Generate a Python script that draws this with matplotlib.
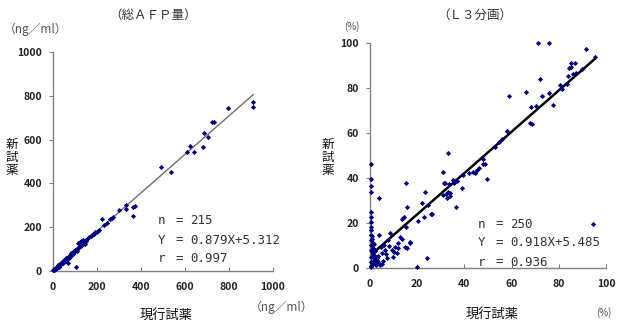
import matplotlib
matplotlib.use("Agg")
import matplotlib.pyplot as plt

plt.rcParams['font.family'] = ['Noto Sans CJK JP', 'DejaVu Sans']

# --- total AFP (ng/ml) ---
afp_x = [911, 911, 794, 724, 730, 688, 703, 684, 623, 611, 642, 491, 535, 373, 365,
         332, 332, 301, 362, 224, 274, 268, 259, 244, 231, 209, 199, 192, 182, 176,
         171, 165, 156, 150, 143, 137, 130, 125, 121, 118, 114, 110, 105, 102, 98,
         95, 92, 90, 87, 85, 82, 80, 78, 75, 73, 70, 68, 66, 64, 62,
         60, 58, 56, 54, 52, 50, 48, 46, 44, 42, 40, 38, 36, 34, 32,
         30, 28, 26, 24, 22, 20, 18, 16, 14, 12, 10, 8, 6, 5, 4,
         3, 2, 140, 128, 112, 96, 88, 76, 60, 45, 35, 25, 15, 120, 135, 145, 115,
         108, 92, 84, 72, 57, 47, 39, 29, 19, 100, 126, 152, 186]
afp_y = [773, 750, 743, 679, 682, 629, 613, 568, 571, 542, 542, 476, 453, 298, 292,
         301, 283, 279, 253, 236, 245, 244, 236, 218, 210, 186, 180, 178, 170, 164,
         160, 155, 148, 141, 133, 122, 134, 137, 112, 108, 103, 99, 17, 95, 92,
         86, 84, 80, 82, 76, 74, 71, 72, 68, 65, 38, 63, 60, 57, 60,
         54, 52, 50, 53, 47, 48, 44, 42, 45, 38, 40, 36, 34, 32, 30,
         32, 27, 25, 26, 23, 20, 19, 17, 15, 12, 11, 9, 7, 5, 6,
         3, 4, 128, 120, 104, 90, 78, 65, 58, 39, 30, 20, 12, 130, 140, 125, 126,
         92, 78, 80, 60, 46, 38, 35, 22, 14, 96, 115, 136, 170]
afp_fit = [0.879, 5.312]
afp_fit_x = [0, 910]
afp_stats = ["215", "0.879X+5.312", "0.997"]

# --- L3 fraction (%) ---
l3_x = [71, 76, 91.5, 95.3, 85, 87, 85, 84.5, 89.8, 86.2, 87.3, 84, 72, 80.5, 83.5,
        76, 81.5, 66, 72.9, 58.9, 77.7, 70.2, 68.2, 67.8, 68.5, 58.2, 56, 54.8, 53, 32.9,
        0.3, 47.7, 47.7, 49.4, 45.2, 44.5, 46, 42.1, 39.5, 36.7, 35.6, 33.5, 31.5, 38.9, 31.1,
        36.4, 33, 32, 31, 34, 32.5, 23.3, 15.3, 3.9, 15.5, 24.7, 21.9, 25.8, 23, 20.5,
        14.1, 13.4, 15.3, 3.9, 8.5, 16.9, 15.5, 24, 20, 94.6, 31.8, 35.3, 43.8, 48.7, 26.1,
        33.9, 14.5, 12.7, 13.4, 16.9, 12, 10.6, 9.2, 6.4, 4.9, 3.5, 2.8, 2.1, 4.2, 7.1,
        9.9, 11.3, 14.8, 7.5, 6.1, 4.7, 2.1, 1.4, 1.8, 3.3, 0.5, 0.4, 0.5, 0.4, 0.3,
        0.4, 0.5, 0.3, 0.4, 0.5, 0.3, 0.4, 0.6, 0.5, 0.3, 0.4, 1.0, 1.2, 0.8, 1.5,
        2.5, 1.1, 0.9, 1.6, 2.2, 3.0, 5.5, 6.8, 8.0, 10.2, 11.8, 5.2, 2.6, 1.3, 0.7]
l3_y = [100, 100, 97.3, 93.9, 91, 91, 89.5, 88.7, 88.3, 86.4, 86.5, 85.3, 83.8, 81.5, 81.6,
        77.6, 79.4, 78.4, 76.4, 76.6, 72.4, 72, 71.7, 64.6, 63.9, 61, 57.2, 56.1, 53.9, 51.3,
        46.2, 48.4, 46.1, 39.6, 43.6, 42.1, 44.5, 42.1, 41.3, 38.8, 38, 37.3, 37.9, 35.4, 42.5,
        27.3, 34, 33, 32.5, 32, 31, 33.6, 37.6, 31, 27.3, 28, 29, 23.8, 22.8, 21,
        22.1, 21.6, 18.4, 14.7, 15.7, 11.7, 8.8, 4.6, 0.3, 19.4, 38, 39, 42.8, 46.2, 23.8,
        33.5, 22.8, 13.9, 12.7, 11.3, 11.3, 9.5, 8, 8, 6.5, 5.3, 3.6, 2.1, 1.3, 4.3,
        5, 6.5, 9.5, 12.4, 10.2, 9.5, 8, 11, 5, 2.8, 0.8, 39.4, 36.4, 33.9, 25,
        22.8, 20.6, 16.9, 14.7, 12.4, 10.2, 8, 5, 2.8, 0.6, 18.4, 13, 9, 7, 6,
        4, 3, 1.5, 10.5, 7.5, 4.5, 3.2, 6.2, 9.8, 7.2, 8.8, 1.8, 1.2, 2.4, 14.2]
l3_fit = [0.918, 5.485]
l3_fit_x = [0, 95]
l3_stats = ["250", "0.918X+5.485", "0.936"]

ticks = [0, 200, 400, 600, 800, 1000]
pct_ticks = [0, 20, 40, 60, 80, 100]

navy = '#000080'
axis_gray = '#808080'
txt = '#333333'

fig = plt.figure(figsize=(6.22, 3.30), dpi=100)
W, H = 622, 330


def fx(px):
    return px / W


def fy(py):
    return 1 - py / H


def style_axes(ax, xt, yt, lim):
    ax.set_xlim(0, lim)
    ax.set_ylim(0, lim)
    ax.set_xticks(xt)
    ax.set_yticks(yt)
    for s in ['top', 'right']:
        ax.spines[s].set_visible(False)
    for s in ['left', 'bottom']:
        ax.spines[s].set_color(axis_gray)
        ax.spines[s].set_linewidth(1)
    ax.tick_params(axis='x', direction='in', length=3, color=axis_gray, pad=8,
                   labelsize=7.5)
    ax.tick_params(axis='y', direction='out', length=3, color=axis_gray, pad=5,
                   labelsize=7.5)
    for lab in ax.get_xticklabels() + ax.get_yticklabels():
        lab.set_fontweight('bold')
        lab.set_color('#222222')
    ax.patch.set_alpha(0)


# left panel
ax1 = fig.add_axes([fx(53), fy(271), fx(273) - fx(53), fy(52) - fy(271)])
style_axes(ax1, ticks, ticks, 1000)
ax1.plot(afp_fit_x, [afp_fit[0] * v + afp_fit[1] for v in afp_fit_x],
         color='#707070', lw=1, zorder=2)
ax1.scatter(afp_x, afp_y, marker='D', s=7, color=navy, lw=0, zorder=3, clip_on=False)

# right panel
ax2 = fig.add_axes([fx(370), fy(268), fx(606) - fx(370), fy(43) - fy(268)])
style_axes(ax2, pct_ticks, pct_ticks, 100)
ax2.plot(l3_fit_x, [l3_fit[0] * v + l3_fit[1] for v in l3_fit_x],
         color='black', lw=1.8, zorder=2)
ax2.scatter(l3_x, l3_y, marker='D', s=7, color=navy, lw=0, zorder=3, clip_on=False)

# titles and units
fig.text(fx(153), fy(15), '（総ＡＦＰ量）', ha='center', va='center', fontsize=9, color=txt)
fig.text(fx(475), fy(15), '（Ｌ３分画）', ha='center', va='center', fontsize=9, color=txt)
fig.text(fx(35), fy(29), '（ng／ml）', ha='center', va='center', fontsize=8.5, color='#505060')
fig.text(fx(281), fy(307), '（ng／ml）', ha='center', va='center', fontsize=8.5, color='#505060')
fig.text(fx(352), fy(27), '(%)', ha='center', va='center', fontsize=7, color='#505060')
fig.text(fx(604), fy(313), '(%)', ha='center', va='center', fontsize=7, color='#505060')

# axis labels
for xp in (12, 328):
    fig.text(fx(xp), fy(157), '新\n試\n薬', ha='center', va='center', fontsize=9,
             linespacing=1.0, color='#111111')
fig.text(fx(166), fy(315), '現行試薬', ha='center', va='center', fontsize=9.5, color='#111111')
fig.text(fx(492), fy(314), '現行試薬', ha='center', va='center', fontsize=9.5, color='#111111')

# statistics
mono = 'DejaVu Sans Mono'
for (x0, y0, vals) in [(158, 221, afp_stats), (478, 224, l3_stats)]:
    for i, (lab, v) in enumerate(zip(['n', 'Y', 'r'], vals)):
        yy = y0 + i * 19
        fig.text(fx(x0), fy(yy), lab, ha='left', va='center', fontsize=9,
                 color=txt, family=mono)
        fig.text(fx(x0 + 18), fy(yy), '=', ha='left', va='center', fontsize=9,
                 color=txt, family=mono)
        fig.text(fx(x0 + 32), fy(yy), v, ha='left', va='center', fontsize=9,
                 color=txt, family=mono)

fig.savefig('out.png', dpi=100)
